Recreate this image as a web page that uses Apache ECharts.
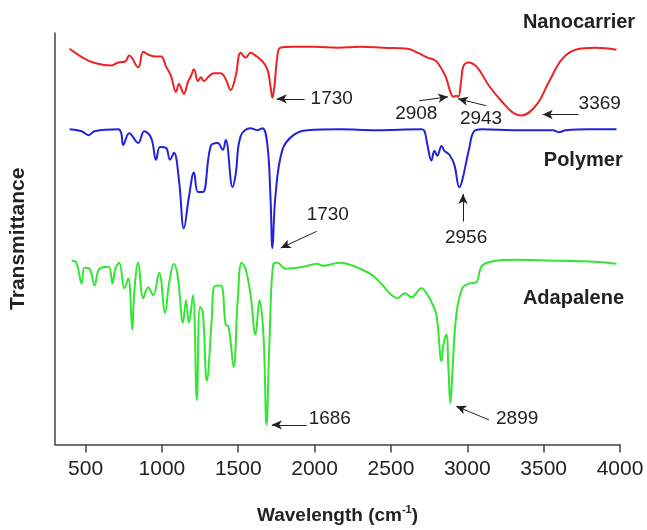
<!DOCTYPE html>
<html>
<head>
<meta charset="utf-8">
<script src="https://cdn.jsdelivr.net/npm/echarts@6/dist/echarts.min.js"></script>
<style>
    html, body { margin: 0; padding: 0; background: #fff; }
    #chart { width: 647px; height: 530px; }
</style>
</head>
<body>
<div id="chart"></div>
<script>
// wavenumber (cm-1), offset transmittance (a.u.)
const nanocarrier = [
    [396, 411], [470, 403], [550, 397], [669, 394], [715, 397], [760, 398], [786, 404], [845, 392],
    [878, 408], [910, 405], [962, 403], [995, 403], [1027, 393], [1060, 383], [1092, 367], [1112, 375],
    [1144, 365], [1170, 377], [1190, 383], [1210, 390], [1236, 378], [1255, 382], [1275, 378], [1308, 383],
    [1340, 386], [1385, 386], [1418, 380], [1450, 369], [1483, 383], [1516, 407], [1548, 402], [1581, 407],
    [1613, 404], [1659, 398], [1691, 390], [1711, 373], [1724, 361], [1737, 373], [1756, 403], [1776, 412],
    [1861, 413], [2000, 413], [2150, 412], [2300, 413], [2450, 412], [2609, 411], [2674, 407], [2740, 402],
    [2779, 400], [2805, 397], [2857, 383], [2889, 367], [2909, 362], [2928, 363], [2941, 362], [2961, 380],
    [2974, 393], [3006, 397], [3065, 392], [3143, 373], [3228, 357], [3290, 347], [3352, 343], [3449, 353],
    [3534, 377], [3618, 400], [3709, 410], [3840, 412], [3977, 410]
]
const polymer = [
    [396, 329], [474, 327], [520, 323], [559, 327], [715, 329], [734, 325], [747, 313], [786, 325],
    [845, 315], [884, 327], [930, 320], [962, 298], [988, 311], [1027, 310], [1053, 298], [1079, 305],
    [1112, 277], [1144, 228], [1177, 260], [1210, 285], [1236, 265], [1268, 265], [1320, 312], [1366, 315],
    [1398, 308], [1418, 318], [1463, 270], [1483, 283], [1516, 322], [1581, 330], [1626, 328], [1659, 330],
    [1691, 313], [1711, 260], [1724, 208], [1743, 260], [1789, 308], [1861, 323], [1952, 328], [2167, 329],
    [2400, 328], [2700, 329], [2720, 327], [2739, 313], [2765, 297], [2785, 307], [2804, 302], [2831, 312],
    [2850, 307], [2883, 303], [2915, 293], [2948, 270], [2967, 277], [3013, 310], [3045, 327], [3097, 329],
    [3300, 328], [3560, 328], [3599, 326], [3644, 328], [3800, 329], [3977, 329]
]
const adapalene = [
    [409, 195], [441, 193], [474, 172], [493, 188], [526, 187], [559, 170], [591, 187], [650, 189],
    [676, 172], [695, 187], [721, 193], [754, 167], [780, 177], [806, 125], [819, 163], [845, 193],
    [878, 157], [910, 168], [943, 160], [982, 183], [1021, 142], [1047, 172], [1079, 192], [1105, 178],
    [1138, 132], [1158, 155], [1177, 132], [1203, 160], [1229, 53], [1249, 148], [1268, 143], [1294, 73],
    [1327, 137], [1340, 168], [1385, 170], [1418, 130], [1437, 128], [1470, 87], [1496, 153], [1522, 193],
    [1548, 187], [1581, 160], [1613, 120], [1639, 155], [1665, 120], [1685, 28], [1704, 110], [1730, 192],
    [1756, 193], [1809, 187], [1926, 189], [2017, 192], [2056, 190], [2167, 193], [2212, 192], [2297, 187],
    [2381, 180], [2446, 170], [2505, 160], [2544, 157], [2590, 162], [2635, 158], [2700, 167], [2733, 162],
    [2765, 153], [2798, 140], [2831, 93], [2844, 110], [2863, 120], [2876, 87], [2889, 50], [2902, 80],
    [2928, 140], [2967, 167], [3013, 172], [3058, 173], [3097, 190], [3189, 195], [3319, 196], [3618, 195],
    [3840, 194], [3977, 192]
]
const xTicks = [500, 1000, 1500, 2000, 2500, 3000, 3500, 4000]

// peak labels: text, wavenumber, value, align
const peakLabels = [
    ['1730', 1974, 360, 'left'],
    ['2908', 2666, 345, 'center'],
    ['2943', 3090, 340, 'center'],
    ['3369', 3729, 355, 'left'],
    ['1730', 1948, 242, 'left'],
    ['2956', 2992, 218, 'center'],
    ['1686', 1961, 34, 'left'],
    ['2899', 3188, 34, 'left']
]
// arrows: [from], [to]
const redArrows = [
    [[1935, 360], [1752, 360]],
    [[2685, 358], [2874, 362]],
    [[3122, 353], [2939, 360]],
    [[3729, 344], [3494, 344]]
]
const blueArrows = [
    [[2013, 225], [1778, 208]],
    [[2972, 235], [2972, 263]]
]
const greenArrows = [
    [[1948, 28], [1720, 28]],
    [[3142, 33], [2927, 47]]
]
const seriesLabels = [
    ['Nanocarrier', 3364, 438],
    ['Polymer', 3501, 297],
    ['Adapalene', 3364, 157]
]

const font = 'Liberation Sans, Arial, sans-serif'

const arrowLine = (list) => ({
    silent: true,
    animation: false,
    symbol: ['none', 'arrow'],
    symbolSize: [7, 10],
    label: { show: false },
    lineStyle: { color: '#222', width: 1, type: 'solid' },
    emphasis: { disabled: true },
    data: list.map((p) => [{ coord: p[0] }, { coord: p[1] }]),
})

const makeSeries = (name, data, color, arrows) => ({
    name: name,
    type: 'line',
    data: data,
    smooth: 0.4,
    showSymbol: false,
    lineStyle: { color: color, width: 2 },
    itemStyle: { color: color },
    markLine: arrowLine(arrows),
})

const chart = echarts.init(document.getElementById('chart'))
chart.setOption({
    animation: false,
    backgroundColor: '#fff',
    textStyle: { fontFamily: font },
    grid: { left: 52, right: 27, top: 33, bottom: 78 },
    xAxis: {
        type: 'value',
        min: 300,
        max: 4000,
        name: '{a|Wavelength (cm}{s|-1}{a|)}',
        nameLocation: 'middle',
        nameGap: 60,
        nameTextStyle: {
            rich: {
                a: { fontSize: 19, fontWeight: 'bold', color: '#222', fontFamily: font, lineHeight: 22 },
                s: { fontSize: 11, fontWeight: 'bold', color: '#222', fontFamily: font, verticalAlign: 'top', lineHeight: 22, padding: [0, 0, 8, 0] },
            },
        },
        axisLine: { show: true, lineStyle: { color: '#444', width: 1.5 } },
        axisTick: { show: true, length: 8, customValues: xTicks, lineStyle: { color: '#444', width: 1.5 } },
        axisLabel: {
            customValues: xTicks,
            formatter: (v) => String(v),
            fontSize: 21,
            color: '#222',
            margin: 14,
            fontFamily: font,
        },
        splitLine: { show: false },
    },
    yAxis: {
        type: 'value',
        min: 8,
        max: 427,
        name: 'Transmittance',
        nameLocation: 'middle',
        nameGap: 26,
        nameTextStyle: { fontSize: 21, fontWeight: 'bold', color: '#222', fontFamily: font },
        axisLine: { show: true, lineStyle: { color: '#444', width: 1.5 } },
        axisTick: { show: false },
        axisLabel: { show: false },
        splitLine: { show: false },
    },
    series: [
        makeSeries('Nanocarrier', nanocarrier, '#ee2222', redArrows),
        makeSeries('Polymer', polymer, '#2222dd', blueArrows),
        makeSeries('Adapalene', adapalene, '#33e633', greenArrows),
    ],
})

// 文字标注
const toPx = (w, v) => chart.convertToPixel({ gridIndex: 0 }, [w, v])
const graphics = []
peakLabels.forEach((p) => {
    const pt = toPx(p[1], p[2])
    graphics.push({
        type: 'text',
        x: pt[0],
        y: pt[1],
        style: {
            text: p[0],
            fill: '#222',
            font: '19px ' + font,
            align: p[3],
            verticalAlign: 'middle',
        },
    })
})
seriesLabels.forEach((p) => {
    const pt = toPx(p[1], p[2])
    graphics.push({
        type: 'text',
        x: pt[0],
        y: pt[1],
        style: {
            text: p[0],
            fill: '#222',
            font: 'bold 20px ' + font,
            align: 'left',
            verticalAlign: 'middle',
        },
    })
})
chart.setOption({ graphic: graphics })
</script>
</body>
</html>
